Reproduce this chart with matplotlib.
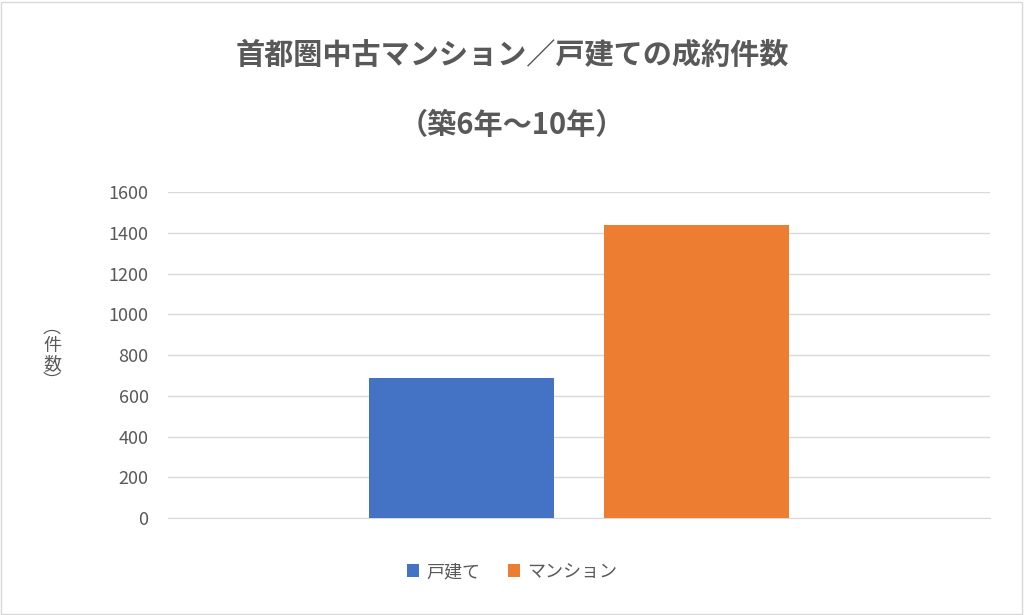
import matplotlib
matplotlib.use("Agg")
import matplotlib.pyplot as plt
from matplotlib.patches import Rectangle

plt.rcParams['font.family'] = ['Noto Sans CJK JP', 'DejaVu Sans']

series = ["戸建て", "マンション"]
values = [685, 1440]
colors = ["#4472C4", "#ED7D31"]
yticks = [0, 200, 400, 600, 800, 1000, 1200, 1400, 1600]

fig = plt.figure(figsize=(10.24, 6.15), dpi=100)
fig.add_artist(Rectangle((0.001, 0.002), 0.997, 0.995, transform=fig.transFigure,
                         fill=False, edgecolor="#D9D9D9", lw=1))
ax = fig.add_axes([168/1024, 1-518/615, (990-168)/1024, (518-192)/615])
offsets = [-0.1425, 0.1435]
for s, v, c, o in zip(series, values, colors, offsets):
    ax.bar(o, v, width=0.225, color=c, label=s, zorder=3)
ax.set_xlim(-0.5, 0.5)
ax.set_ylim(0, 1600)
ax.set_yticks(yticks)
ax.set_yticklabels([str(t) for t in yticks], fontsize=13, color="#595959")
ax.set_xticks([])
ax.grid(axis='y', color="#D9D9D9", lw=1, zorder=0)
for sp in ['top', 'right', 'left']:
    ax.spines[sp].set_visible(False)
ax.spines['bottom'].set_color("#D9D9D9")
ax.tick_params(axis='y', length=0, pad=14)

fig.text(0.5, 1-55/615, "首都圏中古マンション／戸建ての成約件数", ha='center', va='center',
         fontsize=21, fontweight='bold', color="#595959")
fig.text(0.5, 1-125/615, "（築6年～10年）", ha='center', va='center',
         fontsize=21, fontweight='bold', color="#595959")
fig.text(52/1024, 1-355/615, "︵\n件\n数\n︶", ha='center', va='center',
         fontsize=13, color="#595959", linespacing=1.0)
fig.legend(loc='center', bbox_to_anchor=(0.5, 1-572/615), ncol=2, frameon=False,
           fontsize=13, handlelength=0.7, handleheight=0.7, columnspacing=1.5,
           handletextpad=0.4, labelcolor="#595959")
fig.savefig("out.png", dpi=100)
